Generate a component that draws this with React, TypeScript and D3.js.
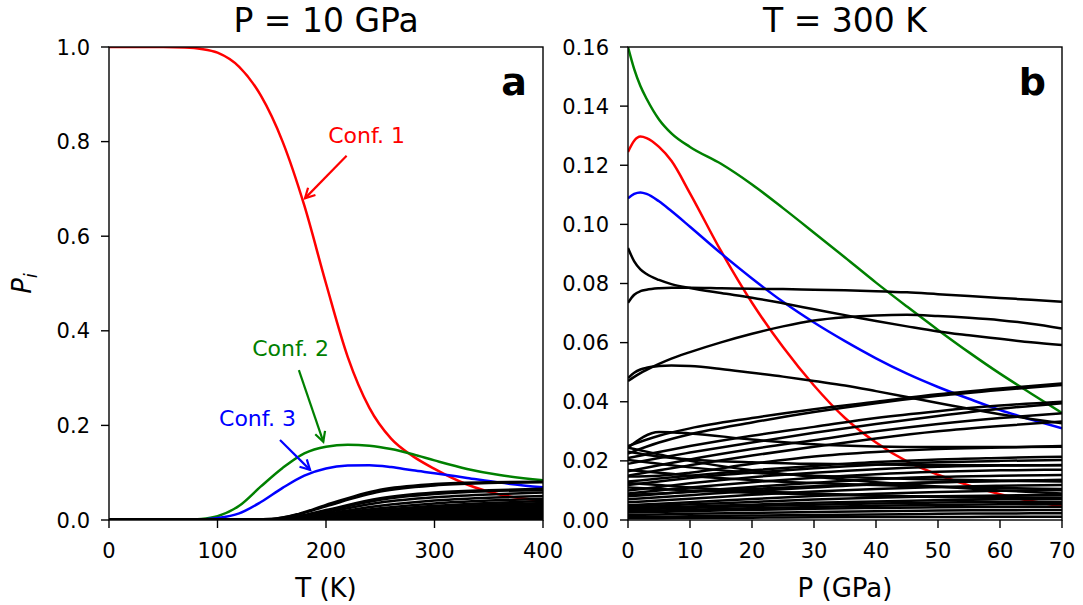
import React from 'react';
import * as d3 from 'd3';

// ---------- Panel a data (P = 10 GPa), x = T (K) ----------
const T_GRID = [0, 50, 70, 85, 100, 120, 140, 160, 180, 200, 220, 240, 260, 280, 300, 330, 360, 400];
const conf1_T = [1.0, 1.0, 0.999, 0.996, 0.988, 0.958, 0.897, 0.80, 0.665, 0.50, 0.345, 0.237, 0.172, 0.135, 0.108, 0.075, 0.054, 0.041];
const conf2_T = [0, 0, 0.0003, 0.002, 0.008, 0.03, 0.071, 0.110, 0.141, 0.155, 0.159, 0.157, 0.150, 0.139, 0.126, 0.108, 0.095, 0.084];
const conf3_T = [0, 0, 0.0001, 0.001, 0.004, 0.014, 0.038, 0.068, 0.094, 0.109, 0.115, 0.116, 0.112, 0.105, 0.099, 0.089, 0.079, 0.069];

const T_GRID_OTHERS = [0, 100, 150, 175, 200, 250, 300, 350, 400];
const others_T = [
  [0, 0, 0.002, 0.013, 0.032, 0.064, 0.076, 0.080, 0.081],
  [0, 0, 0.002, 0.012, 0.029, 0.060, 0.073, 0.078, 0.080],
  [0, 0, 0.001, 0.008, 0.021, 0.046, 0.058, 0.063, 0.066],
  [0, 0, 0.001, 0.007, 0.019, 0.043, 0.055, 0.061, 0.063],
  [0, 0, 0.001, 0.006, 0.016, 0.037, 0.048, 0.054, 0.058],
  [0, 0, 0.001, 0.005, 0.013, 0.030, 0.041, 0.047, 0.051],
  [0, 0, 0.0005, 0.004, 0.011, 0.025, 0.035, 0.041, 0.045],
  [0, 0, 0.0005, 0.003, 0.009, 0.021, 0.030, 0.036, 0.040],
  [0, 0, 0.0004, 0.003, 0.008, 0.019, 0.027, 0.032, 0.036],
  [0, 0, 0.0003, 0.0025, 0.007, 0.017, 0.025, 0.030, 0.033],
  [0, 0, 0.0003, 0.002, 0.006, 0.015, 0.022, 0.027, 0.031],
  [0, 0, 0.0002, 0.002, 0.005, 0.013, 0.020, 0.025, 0.028],
  [0, 0, 0.0002, 0.0015, 0.0045, 0.012, 0.018, 0.022, 0.025],
  [0, 0, 0.0002, 0.0013, 0.004, 0.010, 0.016, 0.020, 0.023],
  [0, 0, 0.0001, 0.001, 0.0035, 0.009, 0.014, 0.018, 0.020],
  [0, 0, 0.0001, 0.001, 0.003, 0.008, 0.012, 0.015, 0.018],
  [0, 0, 0.0001, 0.0008, 0.0025, 0.0065, 0.010, 0.013, 0.015],
  [0, 0, 0, 0.0006, 0.002, 0.0055, 0.0085, 0.011, 0.013],
  [0, 0, 0, 0.0005, 0.0015, 0.0045, 0.007, 0.009, 0.011],
  [0, 0, 0, 0.0004, 0.0012, 0.0035, 0.0055, 0.0072, 0.0085],
  [0, 0, 0, 0.0003, 0.0009, 0.0025, 0.004, 0.0055, 0.0065],
  [0, 0, 0, 0.0002, 0.0006, 0.0018, 0.003, 0.004, 0.0048],
  [0, 0, 0, 0.0001, 0.0004, 0.0011, 0.0018, 0.0025, 0.003],
  [0, 0, 0, 0.0001, 0.0002, 0.0006, 0.001, 0.0013, 0.0016],
];

// ---------- Panel b data (T = 300 K), x = P (GPa) ----------
const P_GRID = [0, 1, 2, 3, 5, 7, 10, 15, 20, 25, 30, 35, 40, 45, 50, 55, 60, 65, 70];
const conf1_P = [0.1245, 0.1283, 0.1297, 0.1292, 0.1262, 0.1215, 0.1105, 0.091, 0.0735, 0.0585, 0.0455, 0.0345, 0.0262, 0.0198, 0.0153, 0.0117, 0.0087, 0.0064, 0.0046];
const conf2_P = [0.160, 0.1525, 0.1468, 0.1425, 0.1355, 0.1308, 0.1262, 0.1205, 0.1135, 0.1055, 0.0972, 0.0888, 0.0803, 0.0722, 0.0643, 0.0567, 0.0495, 0.0428, 0.0362];
const conf3_P = [0.1088, 0.1103, 0.1108, 0.1103, 0.1078, 0.1045, 0.0992, 0.0902, 0.0817, 0.0738, 0.0668, 0.0605, 0.0547, 0.0495, 0.0450, 0.0410, 0.0372, 0.0340, 0.0310];
const othersMajor_P = [
  [0.092, 0.0875, 0.0848, 0.0832, 0.0812, 0.0798, 0.0785, 0.0768, 0.0752, 0.0733, 0.0713, 0.0693, 0.0673, 0.0655, 0.0638, 0.0625, 0.0613, 0.0601, 0.0592],
  [0.0735, 0.0762, 0.0774, 0.0779, 0.0784, 0.0786, 0.0786, 0.0784, 0.0782, 0.0781, 0.0779, 0.0777, 0.0774, 0.0770, 0.0764, 0.0758, 0.0751, 0.0745, 0.0738],
  [0.0470, 0.0484, 0.0497, 0.0508, 0.0528, 0.0546, 0.0568, 0.0601, 0.0630, 0.0655, 0.0675, 0.0686, 0.0692, 0.0694, 0.0690, 0.0684, 0.0676, 0.0664, 0.0648],
  [0.0480, 0.0498, 0.0509, 0.0515, 0.0521, 0.0523, 0.0521, 0.0511, 0.0498, 0.0485, 0.0470, 0.0455, 0.0436, 0.0416, 0.0396, 0.0376, 0.0358, 0.0342, 0.0327],
];
const P_GRID_OTHERS = [0, 5, 10, 20, 30, 40, 50, 60, 70];
const othersMinor_P = [
  [0.0250, 0.0285, 0.0310, 0.0345, 0.0375, 0.0400, 0.0425, 0.0445, 0.0462],
  [0.0225, 0.0262, 0.0290, 0.0330, 0.0365, 0.0395, 0.0420, 0.0440, 0.0457],
  [0.0210, 0.0230, 0.0250, 0.0285, 0.0315, 0.0345, 0.0368, 0.0387, 0.0400],
  [0.0190, 0.0210, 0.0228, 0.0262, 0.0295, 0.0325, 0.0352, 0.0376, 0.0395],
  [0.0165, 0.0185, 0.0205, 0.0240, 0.0270, 0.0300, 0.0325, 0.0345, 0.0361],
  [0.0150, 0.0168, 0.0185, 0.0218, 0.0248, 0.0276, 0.0300, 0.0318, 0.0333],
  [0.0245, 0.0298, 0.0293, 0.0272, 0.0256, 0.0249, 0.0247, 0.0247, 0.0248],
  [0.0245, 0.0222, 0.0200, 0.0168, 0.0146, 0.0128, 0.0113, 0.0100, 0.0090],
  [0.0203, 0.0190, 0.0178, 0.0160, 0.0150, 0.0142, 0.0137, 0.0133, 0.0130],
  [0.0231, 0.0215, 0.0205, 0.0195, 0.0190, 0.0188, 0.0186, 0.0185, 0.0185],
  [0.0147, 0.0150, 0.0160, 0.0190, 0.0215, 0.0230, 0.0240, 0.0245, 0.0250],
  [0.0169, 0.0160, 0.0150, 0.0135, 0.0125, 0.0118, 0.0112, 0.0108, 0.0105],
  [0.0125, 0.0118, 0.0110, 0.0098, 0.0090, 0.0083, 0.0078, 0.0074, 0.0072],
  [0.0130, 0.0140, 0.0150, 0.0168, 0.0183, 0.0196, 0.0205, 0.0210, 0.0214],
  [0.0118, 0.0130, 0.0142, 0.0160, 0.0175, 0.0187, 0.0195, 0.0200, 0.0203],
  [0.0100, 0.0112, 0.0124, 0.0145, 0.0160, 0.0172, 0.0180, 0.0184, 0.0186],
  [0.0090, 0.0100, 0.0110, 0.0128, 0.0143, 0.0155, 0.0163, 0.0168, 0.0170],
  [0.0080, 0.0088, 0.0096, 0.0112, 0.0126, 0.0138, 0.0146, 0.0150, 0.0152],
  [0.0070, 0.0077, 0.0084, 0.0098, 0.0110, 0.0121, 0.0128, 0.0132, 0.0135],
  [0.0060, 0.0066, 0.0072, 0.0085, 0.0096, 0.0105, 0.0112, 0.0116, 0.0118],
  [0.0050, 0.0055, 0.0060, 0.0071, 0.0081, 0.0089, 0.0095, 0.0099, 0.0101],
  [0.0045, 0.0049, 0.0053, 0.0061, 0.0069, 0.0075, 0.0080, 0.0083, 0.0085],
  [0.0040, 0.0043, 0.0046, 0.0052, 0.0058, 0.0063, 0.0067, 0.0070, 0.0072],
  [0.0035, 0.0038, 0.0041, 0.0047, 0.0052, 0.0056, 0.0059, 0.0061, 0.0062],
  [0.0030, 0.0032, 0.0035, 0.0040, 0.0044, 0.0048, 0.0051, 0.0053, 0.0054],
  [0.0025, 0.0027, 0.0030, 0.0034, 0.0038, 0.0041, 0.0043, 0.0044, 0.0045],
  [0.0017, 0.0019, 0.0021, 0.0024, 0.0027, 0.0030, 0.0032, 0.0033, 0.0034],
  [0.0010, 0.0011, 0.0013, 0.0015, 0.0017, 0.0019, 0.0021, 0.0022, 0.0023],
  [0.0006, 0.0006, 0.0007, 0.0008, 0.0009, 0.0010, 0.0010, 0.0011, 0.0011],
  [0.0110, 0.0105, 0.0100, 0.0092, 0.0086, 0.0082, 0.0079, 0.0077, 0.0076],
  [0.0085, 0.0090, 0.0095, 0.0105, 0.0114, 0.0122, 0.0128, 0.0132, 0.0135],
];

// ---------- ticks & labels ----------
const X_TICKS_A = [0, 100, 200, 300, 400];
const Y_TICKS_A = [0, 0.2, 0.4, 0.6, 0.8, 1.0];
const X_TICKS_B = [0, 10, 20, 30, 40, 50, 60, 70];
const Y_TICKS_B = [0, 0.02, 0.04, 0.06, 0.08, 0.10, 0.12, 0.14, 0.16];

// annotations: [label, color, textX, textY, tailX, tailY, headX, headY] in data coords
const ANNOTATIONS_A: [string, string, number, number, number, number, number, number][] = [
  ['Conf. 1', '#ff0000', 202, 0.797, 219, 0.770, 180.6, 0.680],
  ['Conf. 2', '#008000', 132, 0.347, 175, 0.317, 197.5, 0.1655],
  ['Conf. 3', '#0000ff', 101.4, 0.198, 157.6, 0.169, 185.3, 0.106],
];

const FONT = 'DejaVu Sans, sans-serif';
const TOP = 47;
const BOTTOM = 520;

type Series = { xs: number[]; ys: number[]; color: string };

function Panel(props: {
  id: string;
  left: number;
  right: number;
  xDomain: [number, number];
  yDomain: [number, number];
  xTicks: number[];
  yTicks: number[];
  yFmt: (v: number) => string;
  series: Series[];
  title: string;
  xLabel: string;
  letter: string;
  annotations?: [string, string, number, number, number, number, number, number][];
}) {
  const { id, left, right, xDomain, yDomain, xTicks, yTicks, yFmt, series, title, xLabel, letter, annotations } = props;
  const x = d3.scaleLinear().domain(xDomain).range([left, right]);
  const y = d3.scaleLinear().domain(yDomain).range([BOTTOM, TOP]);
  const tickLen = 8;
  const line = d3
    .line<[number, number]>()
    .x((d) => x(d[0]))
    .y((d) => y(d[1]))
    .curve(d3.curveMonotoneX);
  return (
    <g>
      <defs>
        <clipPath id={`clip-${id}`}>
          <rect x={left} y={TOP} width={right - left} height={BOTTOM - TOP} />
        </clipPath>
      </defs>
      <g clipPath={`url(#clip-${id})`}>
        {series.map((s, i) => {
          const pts = s.xs.map((xv, j) => [xv, s.ys[j]] as [number, number]);
          return <path key={i} d={line(pts) || ''} fill="none" stroke={s.color} strokeWidth={2.5} strokeLinejoin="round" />;
        })}
      </g>
      <rect x={left} y={TOP} width={right - left} height={BOTTOM - TOP} fill="none" stroke="#000" strokeWidth={1.4} />
      {xTicks.map((t) => (
        <g key={`xt${t}`}>
          <line x1={x(t)} x2={x(t)} y1={BOTTOM} y2={BOTTOM + tickLen} stroke="#000" strokeWidth={1.4} />
          <text x={x(t)} y={558} textAnchor="middle" fontFamily={FONT} fontSize={21} fill="#000">
            {String(t)}
          </text>
        </g>
      ))}
      {yTicks.map((t) => (
        <g key={`yt${t}`}>
          <line x1={left - tickLen} x2={left} y1={y(t)} y2={y(t)} stroke="#000" strokeWidth={1.4} />
          <text x={left - 19} y={y(t)} dy="0.36em" textAnchor="end" fontFamily={FONT} fontSize={21} fill="#000">
            {yFmt(t)}
          </text>
        </g>
      ))}
      <text x={(left + right) / 2} y={32} textAnchor="middle" fontFamily={FONT} fontSize={33} fill="#000">
        {title}
      </text>
      <text x={(left + right) / 2} y={597} textAnchor="middle" fontFamily={FONT} fontSize={26} fill="#000">
        {xLabel}
      </text>
      <text x={right - 16} y={95} textAnchor="end" fontFamily={FONT} fontSize={38} fontWeight="bold" fill="#000">
        {letter}
      </text>
      {(annotations || []).map((a, i) => {
        const [label, color, tx, ty, x0, y0, x1, y1] = a;
        const X0 = x(x0), Y0 = y(y0), X1 = x(x1), Y1 = y(y1);
        const ang = Math.atan2(Y1 - Y0, X1 - X0);
        const hl = 11;
        const ha = (28 * Math.PI) / 180;
        const p1 = [X1 - hl * Math.cos(ang - ha), Y1 - hl * Math.sin(ang - ha)];
        const p2 = [X1 - hl * Math.cos(ang + ha), Y1 - hl * Math.sin(ang + ha)];
        return (
          <g key={`an${i}`}>
            <text x={x(tx)} y={y(ty)} fontFamily={FONT} fontSize={22} fill={color}>
              {label}
            </text>
            <line x1={X0} y1={Y0} x2={X1} y2={Y1} stroke={color} strokeWidth={2.2} />
            <polyline points={`${p1[0]},${p1[1]} ${X1},${Y1} ${p2[0]},${p2[1]}`} fill="none" stroke={color} strokeWidth={2.2} />
          </g>
        );
      })}
    </g>
  );
}

export default function App() {
  const seriesA: Series[] = [
    { xs: T_GRID, ys: conf1_T, color: '#ff0000' },
    { xs: T_GRID, ys: conf2_T, color: '#008000' },
    { xs: T_GRID, ys: conf3_T, color: '#0000ff' },
    ...others_T.map((ys) => ({ xs: T_GRID_OTHERS, ys, color: '#000000' })),
  ];
  const seriesB: Series[] = [
    { xs: P_GRID, ys: conf1_P, color: '#ff0000' },
    { xs: P_GRID, ys: conf2_P, color: '#008000' },
    { xs: P_GRID, ys: conf3_P, color: '#0000ff' },
    ...othersMajor_P.map((ys) => ({ xs: P_GRID, ys, color: '#000000' })),
    ...othersMinor_P.map((ys) => ({ xs: P_GRID_OTHERS, ys, color: '#000000' })),
  ];
  return (
    <svg width={1083} height={605} style={{ position: 'absolute', left: 0, top: 0, background: '#fff' }}>
      <rect x={0} y={0} width={1083} height={605} fill="#fff" />
      <Panel
        id="a"
        left={109}
        right={543}
        xDomain={[0, 400]}
        yDomain={[0, 1]}
        xTicks={X_TICKS_A}
        yTicks={Y_TICKS_A}
        yFmt={d3.format('.1f')}
        series={seriesA}
        title="P = 10 GPa"
        xLabel="T (K)"
        letter="a"
        annotations={ANNOTATIONS_A}
      />
      <Panel
        id="b"
        left={628}
        right={1062}
        xDomain={[0, 70]}
        yDomain={[0, 0.16]}
        xTicks={X_TICKS_B}
        yTicks={Y_TICKS_B}
        yFmt={d3.format('.2f')}
        series={seriesB}
        title="T = 300 K"
        xLabel="P (GPa)"
        letter="b"
      />
      <text
        transform="translate(31,283.5) rotate(-90)"
        textAnchor="middle"
        fontFamily={FONT}
        fontSize={26}
        fontStyle="italic"
        fill="#000"
      >
        P
        <tspan fontSize={18} dy={6}>i</tspan>
      </text>
    </svg>
  );
}
